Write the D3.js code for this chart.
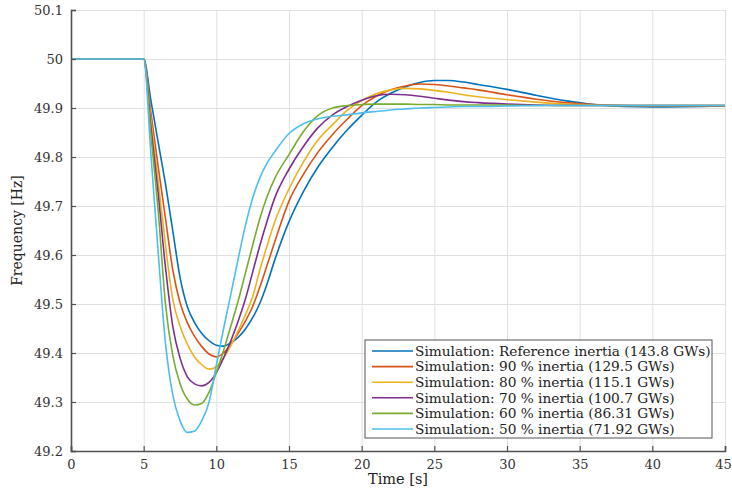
<!DOCTYPE html>
<html>
<head>
<meta charset="utf-8">
<script src="https://cdn.jsdelivr.net/npm/d3@7"></script>
<style>
  body { margin: 0; background: #fff; }
  text { font-family: "DejaVu Serif", "Liberation Serif", serif; }
</style>
</head>
<body>
<div id="wrapper"></div>
<script>
const timeSec = [0, 5, 5.5, 6, 6.5, 7, 7.5, 8, 8.5, 9, 9.5, 10, 10.5, 11, 11.5, 12, 12.5, 13, 13.5, 14,
  15, 16, 17, 18, 19, 20, 21, 22, 23, 24, 25, 26, 27, 28, 30, 32, 34, 36, 38, 40, 45];

const freqRef = [50, 50, 49.915, 49.83, 49.745, 49.65, 49.555, 49.495, 49.462, 49.44, 49.425, 49.416, 49.414, 49.421, 49.432, 49.449, 49.472, 49.502, 49.542, 49.588,
  49.668, 49.73, 49.78, 49.82, 49.855, 49.885, 49.912, 49.93, 49.943, 49.952, 49.956, 49.956, 49.953, 49.948,
  49.938, 49.926, 49.915, 49.907, 49.903, 49.902, 49.904];
const freq90 = [50, 50, 49.89, 49.78, 49.675, 49.57, 49.503, 49.462, 49.434, 49.413, 49.398, 49.392, 49.4, 49.418, 49.44, 49.465, 49.495, 49.535, 49.58, 49.625,
  49.71, 49.765, 49.81, 49.846, 49.877, 49.905, 49.924, 49.937, 49.945, 49.949, 49.948, 49.945, 49.941, 49.937,
  49.927, 49.918, 49.911, 49.907, 49.905, 49.904, 49.904];
const freq80 = [50, 50, 49.875, 49.75, 49.62, 49.51, 49.455, 49.418, 49.392, 49.376, 49.367, 49.372, 49.39, 49.415, 49.445, 49.478, 49.515, 49.57, 49.62, 49.666,
  49.735, 49.79, 49.835, 49.866, 49.895, 49.915, 49.929, 49.937, 49.94, 49.939, 49.936, 49.932, 49.927, 49.923,
  49.917, 49.912, 49.908, 49.906, 49.905, 49.905, 49.905];
const freq70 = [50, 50, 49.86, 49.725, 49.575, 49.455, 49.39, 49.352, 49.337, 49.333, 49.34, 49.36, 49.39, 49.425, 49.465, 49.51, 49.565, 49.62, 49.67, 49.715,
  49.775, 49.822, 49.86, 49.886, 49.903, 49.916, 49.925, 49.928, 49.927, 49.924, 49.92, 49.916, 49.913, 49.911,
  49.908, 49.906, 49.905, 49.905, 49.905, 49.905, 49.905];
const freq60 = [50, 50, 49.845, 49.69, 49.5, 49.395, 49.338, 49.306, 49.294, 49.297, 49.32, 49.36, 49.405, 49.455, 49.506, 49.563, 49.62, 49.675, 49.72, 49.755,
  49.805, 49.852, 49.885, 49.9, 49.905, 49.907, 49.908, 49.908, 49.908, 49.907, 49.907, 49.906, 49.906, 49.906,
  49.906, 49.905, 49.905, 49.905, 49.905, 49.905, 49.905];
const freq50 = [50, 50, 49.805, 49.605, 49.42, 49.315, 49.262, 49.238, 49.241, 49.262, 49.3, 49.375, 49.45, 49.52, 49.592, 49.66, 49.716, 49.758, 49.788, 49.81,
  49.848, 49.868, 49.878, 49.883, 49.886, 49.89, 49.893, 49.896, 49.898, 49.9, 49.901, 49.902, 49.903, 49.903,
  49.904, 49.905, 49.905, 49.905, 49.905, 49.905, 49.905];

const seriesNames = [
  "Simulation: Reference inertia (143.8 GWs)",
  "Simulation: 90 % inertia (129.5 GWs)",
  "Simulation: 80 % inertia (115.1 GWs)",
  "Simulation: 70 % inertia (100.7 GWs)",
  "Simulation: 60 % inertia (86.31 GWs)",
  "Simulation: 50 % inertia (71.92 GWs)",
];
const seriesValues = [freqRef, freq90, freq80, freq70, freq60, freq50];
const seriesColors = ["#0072BD", "#D95319", "#EDB120", "#7E2F8E", "#77AC30", "#4DBEEE"];

const xTicks = [0, 5, 10, 15, 20, 25, 30, 35, 40, 45];
const yTicks = [49.2, 49.3, 49.4, 49.5, 49.6, 49.7, 49.8, 49.9, 50, 50.1];

/* CHART DIMENSIONS */
const dimensions = {
  width: 732,
  height: 490,
  margin: { top: 10, right: 7, bottom: 39, left: 71 },
};
dimensions.boundedWidth = dimensions.width - dimensions.margin.left - dimensions.margin.right;
dimensions.boundedHeight = dimensions.height - dimensions.margin.top - dimensions.margin.bottom;

/* SCALES */
const xScale = d3.scaleLinear().domain([0, 45]).range([0, dimensions.boundedWidth]);
const yScale = d3.scaleLinear().domain([49.2, 50.1]).range([dimensions.boundedHeight, 0]);

const svg = d3.select("#wrapper")
  .append("svg")
  .attr("width", dimensions.width)
  .attr("height", dimensions.height);

const bounds = svg.append("g")
  .attr("transform", `translate(${dimensions.margin.left},${dimensions.margin.top})`);

/* GRID */
const xGrid = bounds.append("g")
  .call(d3.axisBottom(xScale).tickValues(xTicks).tickSize(dimensions.boundedHeight).tickFormat(""));
const yGrid = bounds.append("g")
  .call(d3.axisLeft(yScale).tickValues(yTicks).tickSize(-dimensions.boundedWidth).tickFormat(""));
[xGrid, yGrid].forEach(g => {
  g.select(".domain").remove();
  g.selectAll("line").attr("stroke", "#e0e0e0").attr("stroke-width", 1);
});

/* LINES */
const lineGen = d3.line()
  .x(d => xScale(d[0]))
  .y(d => yScale(d[1]))
  .curve(d3.curveMonotoneX);

seriesValues.forEach((vals, i) => {
  bounds.append("path")
    .attr("d", lineGen(timeSec.map((t, j) => [t, vals[j]])))
    .attr("fill", "none")
    .attr("stroke", seriesColors[i])
    .attr("stroke-width", 1.6);
});

/* AXES */
const xAxis = bounds.append("g")
  .attr("transform", `translate(0,${dimensions.boundedHeight})`)
  .call(d3.axisBottom(xScale).tickValues(xTicks).tickSize(-5).tickPadding(9).tickFormat(d3.format("d")));
const yAxis = bounds.append("g")
  .call(d3.axisLeft(yScale).tickValues(yTicks).tickSize(-5).tickPadding(8).tickFormat(d3.format("~g")));
[xAxis, yAxis].forEach(g => {
  g.select(".domain").attr("stroke", "#505050").attr("stroke-width", 1.6);
  g.selectAll(".tick line").attr("stroke", "#505050").attr("stroke-width", 1.2);
  g.selectAll(".tick text").attr("fill", "#333").style("font-size", "13px")
    .style("font-family", "'DejaVu Serif', serif");
});
xAxis.selectAll(".tick text").filter(d => d === 45).attr("dx", "-2");

svg.append("text")
  .attr("x", dimensions.margin.left + dimensions.boundedWidth / 2)
  .attr("y", 484)
  .attr("text-anchor", "middle")
  .attr("fill", "#222")
  .style("font-size", "14.5px")
  .text("Time [s]");

svg.append("text")
  .attr("transform", `translate(22,${dimensions.margin.top + dimensions.boundedHeight / 2}) rotate(-90)`)
  .attr("text-anchor", "middle")
  .attr("fill", "#222")
  .style("font-size", "14px")
  .text("Frequency [Hz]");

/* LEGEND */
const legend = svg.append("g").attr("transform", "translate(365,340)");
legend.append("rect")
  .attr("width", 347)
  .attr("height", 98)
  .attr("fill", "#fff")
  .attr("stroke", "#555")
  .attr("stroke-width", 1);

seriesNames.forEach((name, i) => {
  const y = 11 + i * 15.6;
  legend.append("line")
    .attr("x1", 7).attr("x2", 48)
    .attr("y1", y).attr("y2", y)
    .attr("stroke", seriesColors[i])
    .attr("stroke-width", 1.6);
  legend.append("text")
    .attr("x", 50)
    .attr("y", y)
    .attr("dy", "0.35em")
    .attr("fill", "#222")
    .style("font-size", "13.7px")
    .text(name);
});
</script>
</body>
</html>
